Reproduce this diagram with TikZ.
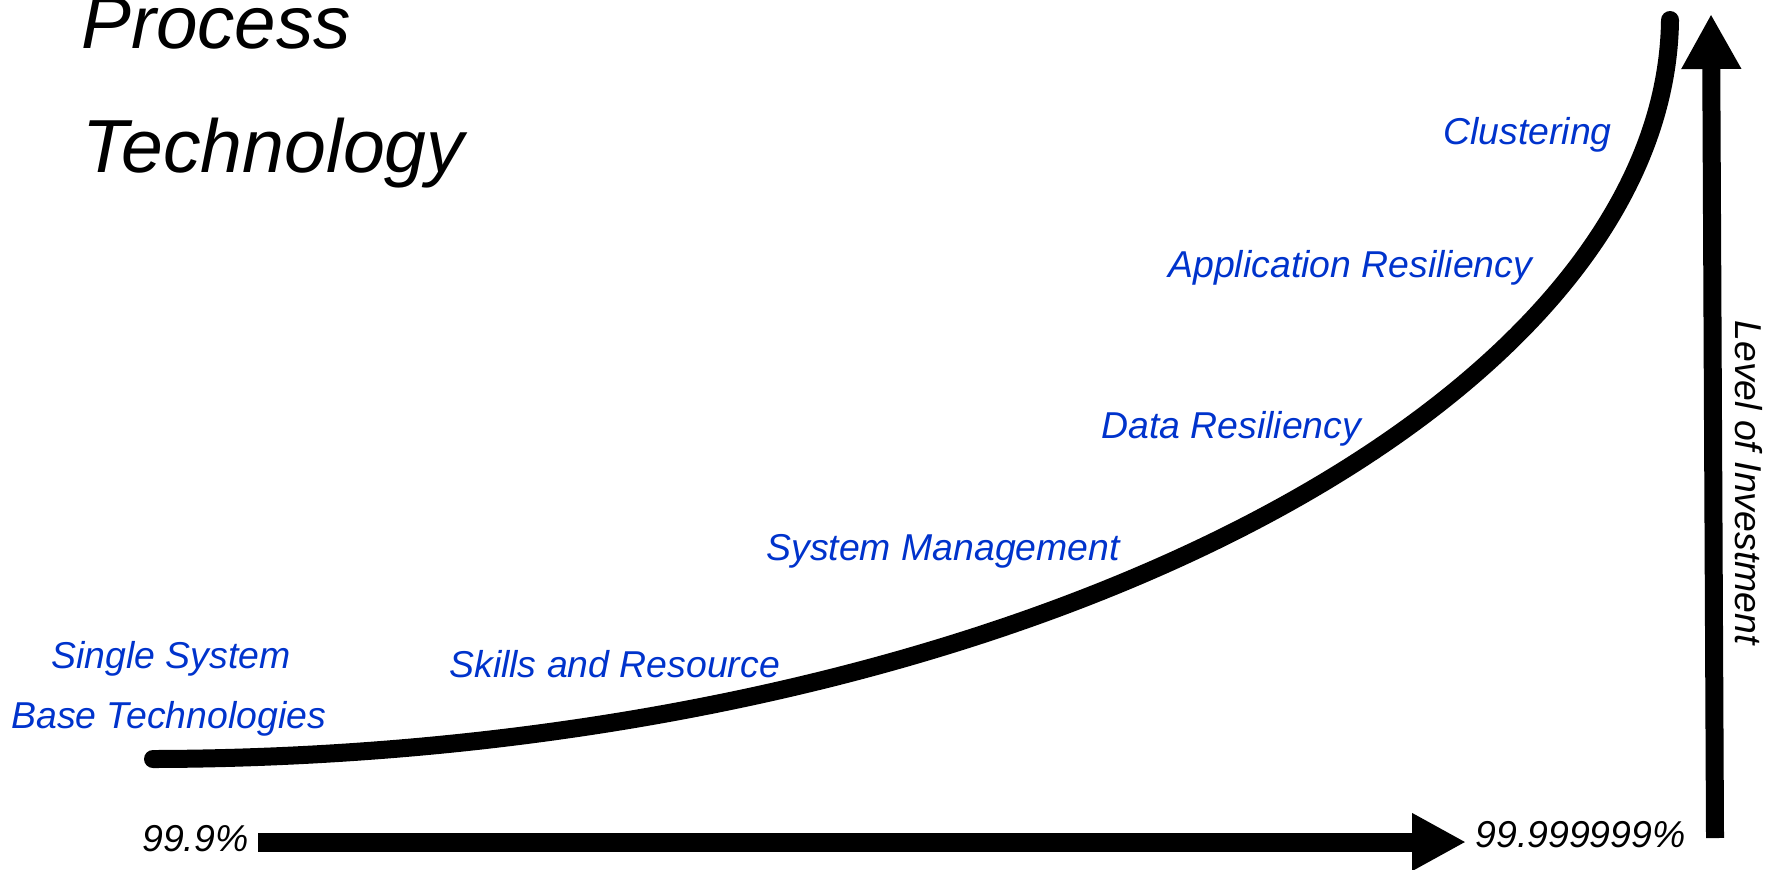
\documentclass[tikz,border=0pt]{standalone}
\usepackage{fontspec}
\setmainfont{Liberation Sans}
\usepackage{tikz}
\usetikzlibrary{arrows.meta,positioning}

\definecolor{stageblue}{RGB}{0,51,204}
\tikzset{
  stage/.style={text=stageblue},
  bigarrow/.style={line width=9.5pt,-{Triangle[length=27pt,width=27pt]}},
}

\begin{document}
\begin{tikzpicture}[x=.5pt,y=-.5pt,every node/.append style={font=\itshape\fontsize{18.7}{22}\selectfont,
                    anchor=base west,inner sep=0pt}]
    \useasboundingbox (0,0) rectangle (1775,869);
    % title
    \node (process) at (81,48) {\fontsize{37.3}{40}\selectfont Process};
    \node (technology) at (82,172) {\fontsize{37.6}{40}\selectfont Technology};
    % the investment curve
    \draw[line width=9pt,line cap=round] (153,759) .. controls (1000,757) and (1665,410) .. (1670,20);
    % stages along the curve
    \node[stage] (single) at (51,668) {Single System};
    \node[stage] (base) at (11,728) {Base Technologies};
    \node[stage] (skills) at (449,677) {Skills and Resource};
    \node[stage] (sysman) at (766,560) {System Management};
    \node[stage] (data) at (1101,438) {Data Resiliency};
    \node[stage] (appres) at (1168,277) {Application Resiliency};
    \node[stage] (cluster) at (1443,144) {Clustering};
    % availability axis
    \node (low) at (142,851) {99.9\%};
    \node (high) at (1475,847) {99.999999\%};
    \coordinate (xstart) at (258,842);
    \coordinate (xend) at (1466,842);
    \draw[bigarrow] (xstart) -- (xend);
    % investment axis
    \coordinate (ystart) at (1715,838);
    \coordinate (yend) at (1711,14);
    \draw[line width=9pt,-{Triangle[length=27.5pt,width=28pt]}] (ystart) -- (yend);
    \node[rotate=-90] (invest) at (1735,320) {Level of Investment};
\end{tikzpicture}
\end{document}
